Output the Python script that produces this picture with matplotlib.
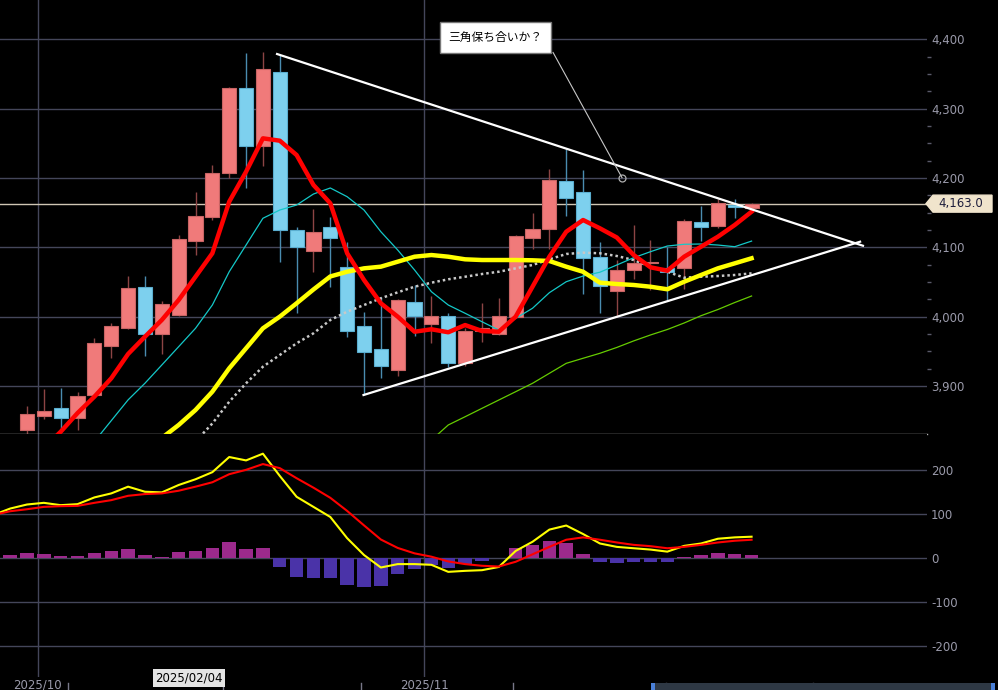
import numpy as np
import matplotlib
matplotlib.use("Agg")
import matplotlib.pyplot as plt
import matplotlib.transforms as mtrans
from matplotlib.patches import Rectangle, Polygon
from matplotlib.ticker import FuncFormatter, FixedLocator

plt.rcParams['font.family'] = ['DejaVu Sans', 'Noto Sans CJK JP']
plt.rcParams['axes.unicode_minus'] = False

# ---------------- data ----------------
candle_idx = list(range(-1, 44))
opens = [3790, 3836.6, 3856.7, 3868.3, 3854.3, 3887, 3958.2, 3983.3, 4042.4, 3974.5,
         4002.4, 4109.6, 4144.2, 4207.6, 4329.3, 4246.6, 4353.3, 4125, 4094.7, 4128.9,
         4072, 3986.6, 3954, 3923, 4020.8, 3989.4, 4001.4, 3933, 3980, 3974.6,
         3999, 4113.9, 4126.4, 4195.6, 4180.3, 4085.6, 4037.5, 4067, 4077, 4070,
         4070.8, 4136, 4131, 4161, 4157.2]
highs = [3828, 3871, 3895.7, 3897.6, 3891.8, 3969.7, 3991.3, 4058.6, 4058.6, 4022.2,
         4117.4, 4179.8, 4218.9, 4331, 4379.8, 4381.7, 4377.4, 4130, 4155, 4144,
         4108, 4006.4, 4029, 4025, 4045.7, 4029.8, 4005, 3984, 4019, 4026.5,
         4117.5, 4149, 4212.6, 4241.4, 4211.6, 4107, 4081.7, 4132, 4110, 4101,
         4140.4, 4159.6, 4169.7, 4169.3, 4164]
lows = [3780, 3830, 3852.4, 3836.6, 3836.6, 3887, 3940.9, 3981.8, 3943.7, 3946,
        4001, 4088.5, 4139.4, 4199.6, 4185, 4217.7, 4079.3, 4004.8, 4065, 4043,
        3971, 3887, 3911, 3914, 3972, 3961.6, 3928, 3929, 3964, 3973,
        3998, 4097.6, 4098, 4145, 4032.3, 4006, 4000, 4055, 4038.5, 4024,
        4039.5, 4109, 4128, 4141.8, 4157]
closes = [3815, 3859.3, 3864, 3854.3, 3886, 3961.6, 3986.6, 4041.8, 3975.5, 4018.2,
          4112, 4144.8, 4207.2, 4330.2, 4246.6, 4356.7, 4125, 4101, 4121.7, 4113,
          3979.3, 3949, 3929, 4024.5, 4001.4, 4001.4, 3932.8, 3980, 3983, 4001,
          4116.4, 4126.4, 4197, 4171.6, 4085, 4044.2, 4067.3, 4077, 4079, 4065,
          4138.6, 4129.8, 4164.4, 4158, 4163.0]

nan = np.nan
ma_red = [3780, 3795, 3810, 3834, 3861, 3884.6, 3911.1, 3946.2, 3971.1, 3995.2,
          4024, 4057.6, 4091.4, 4165.8, 4209, 4257.2, 4253.8, 4233.1, 4189.9, 4163.5,
          4091.4, 4052.9, 4019.3, 4000, 3978.3, 3981.8, 3977.5, 3987.9, 3979.3, 3978.3,
          4000, 4043.2, 4086.5, 4122.5, 4139.4, 4127.4, 4114.2, 4089, 4071.2, 4066.3,
          4086.5, 4100.9, 4115.3, 4132.2, 4151.4]
ma_cyan = [nan, nan, nan, nan, nan, 3820, 3850, 3880, 3904, 3930.3,
           3956.7, 3983.2, 4016.8, 4064.8, 4103.3, 4141.9, 4153.8, 4161, 4176.9, 4185.6,
           4173, 4153.8, 4122.5, 4096.1, 4067.3, 4036, 4016.8, 4004.9, 3992.7, 3980.7,
           3997.6, 4012.1, 4034.6, 4050.4, 4058.6, 4064.1, 4074.5, 4085, 4093.7, 4101.9,
           4104.4, 4104.8, 4103.3, 4100.9, 4109]
ma_yellow = [nan, nan, nan, nan, nan, nan, nan, nan, nan, 3825,
             3843.8, 3865.4, 3891.8, 3925.5, 3954.4, 3983.2, 4000, 4019.3, 4039.2, 4058,
             4064.8, 4069.7, 4072.1, 4079.3, 4086.5, 4088.9, 4086.5, 4082.7, 4081.7, 4081.7,
             4081.7, 4081.3, 4080.3, 4072.1, 4064.8, 4049, 4047.1, 4045.7, 4043.2, 4039.5,
             4050.4, 4060.1, 4069.7, 4076.9, 4084.2]
ma_dotted = [nan, nan, nan, nan, nan, nan, nan, nan, nan, nan,
             nan, 3820, 3846, 3877.3, 3903.9, 3927.8, 3944.7, 3961.6, 3976, 3995.2,
             4007.2, 4016.8, 4026.5, 4035.1, 4043.2, 4049, 4053.9, 4057.6, 4061.5, 4064.8,
             4069.7, 4074.5, 4082.7, 4090.4, 4092.3, 4091.4, 4087.5, 4081.7, 4072.1, 4064.8,
             4056.2, 4057.6, 4058.6, 4060.1, 4062.5]
ma_green = [nan] * 25 + [3822, 3843.8, 3855.7, 3867.8, 3879.8, 3891.8, 3903.9, 3918.3, 3932.7, 3940,
                         3947.2, 3955.6, 3965, 3973.6, 3981.5, 3990.9, 4001.4, 4010.3, 4020.4, 4029.8]

macd_idx = list(range(-2, 44))
macd_line = [97, 111.6, 120.8, 124.6, 119.3, 121.6, 136.9, 146, 161.3, 149.8,
             148.3, 165.1, 178.1, 194.2, 228.6, 220.9, 236.2, 185.8, 138.3, 115.4,
             92.5, 44.3, 6.1, -22.2, -14.5, -14.5, -16.1, -32.1, -29.8, -28.3,
             -21, 15.4, 36.2, 63.8, 73.1, 53.8, 32.3, 24.6, 21.5, 18.5,
             13.8, 26.9, 32.3, 43.1, 46.2, 47.7]
signal_line = [97, 105.5, 110.1, 115.4, 117, 117.7, 124.6, 130.7, 140.6, 144.5,
               146, 152.1, 161.3, 171.3, 189.6, 199.5, 212.6, 203.4, 180.5, 159,
               136, 106.2, 73.4, 41.3, 22.2, 9.9, 2.3, -8.4, -14.5, -18.3,
               -20, -9.2, 7.7, 24.6, 40.8, 46.2, 40.8, 34.6, 29.2, 26.2,
               21.5, 24.6, 29.2, 34.6, 38.5, 40.8]
hist_idx = list(range(-1, 44))
macd_hist = [6.1, 10.7, 9.2, 3.8, 3.1, 11.5, 15.3, 19.8, 5.3, 1.5,
             12.2, 16, 22.1, 36.6, 19.1, 22.9, -20.6, -43.5, -46.6, -45.8,
             -62.6, -66.4, -63.4, -37.4, -25.2, -17.6, -23.7, -13.7, -7.6, -1,
             21.5, 29.2, 38.5, 32.3, 9.2, -9.2, -12.3, -10.8, -9.2, -9.2,
             2.3, 5.4, 10, 8.5, 6.2]

# trendlines (index, price)
upper_trend = ([14.84, 49.61], [4378.8, 4102.3])
lower_trend = ([19.97, 49.44], [3887.0, 4108.1])

annot_text = "三角保ち合いか？"
annot_box = (27.8, 4402.6)
annot_line = ([31.22, 35.31], [4381.0, 4200.5])

last_price = 4163.0
date_labels = ["2025/10", "2025/11"]
date_pos = [0.63, 23.56]
minor_date_pos = [2.43, 11.63, 19.82, 28.84, 37.92, 46.65]
cursor_label = "2025/02/04"

price_ticks = [3900, 4000, 4100, 4200, 4300, 4400]
price_minor = [3925, 3950, 3975, 4025, 4050, 4075, 4125, 4150, 4175,
               4225, 4250, 4275, 4325, 4350, 4375]
macd_ticks = [-200, -100, 0, 100, 200]

# ---------------- styling ----------------
W, H = 998, 690
BG = "black"
GRID = "#44465a"
LBL = "#9a9aaa"
UP_FILL, UP_EDGE, UP_WICK = "#f07a7a", "#c86464", "#8c4444"
DN_FILL, DN_EDGE, DN_WICK = "#7dd0ee", "#5aaed0", "#4a8cb0"

fig = plt.figure(figsize=(W / 100, H / 100), dpi=100, facecolor=BG)

def fy(py):
    return 1 - py / H

plot_right = 927
price_bot = 433.5
macd_top, macd_bot = 433.5, 677

ax = fig.add_axes([0, fy(price_bot), plot_right / W, price_bot / H])
axm = fig.add_axes([0, fy(macd_bot), plot_right / W, (macd_bot - macd_top) / H], sharex=ax)

for a in (ax, axm):
    a.set_facecolor(BG)
    for s in a.spines.values():
        s.set_visible(False)

ax.set_xlim(-1.602, 53.41)
ax.set_ylim(3831.5, 4456.7)
axm.set_ylim(-270.8, 282.0)

# grids
for p in price_ticks:
    ax.axhline(p, color=GRID, lw=1, zorder=0)
for v in macd_ticks:
    axm.axhline(v, color=GRID, lw=1, zorder=0)
for xv in date_pos:
    ax.axvline(xv, color=GRID, lw=1, zorder=0)
    axm.axvline(xv, color=GRID, lw=1, zorder=0)

ax.spines['bottom'].set_visible(True)
ax.spines['bottom'].set_color("#b4b4b4")
ax.spines['bottom'].set_linewidth(1)

# y axes on the right
ax.yaxis.tick_right()
ax.yaxis.set_major_locator(FixedLocator(price_ticks))
ax.yaxis.set_major_formatter(FuncFormatter(lambda v, p: f"{v:,.0f}"))
ax.yaxis.set_minor_locator(FixedLocator(price_minor))
ax.tick_params(axis='y', which='major', length=0, pad=3, labelcolor=LBL, labelsize=8.5)
ax.tick_params(axis='y', which='minor', length=3, width=1, color="#5a5a6a", direction='out')
ax.tick_params(axis='x', which='both', length=0, labelbottom=False)

axm.yaxis.tick_right()
axm.yaxis.set_major_locator(FixedLocator(macd_ticks))
axm.yaxis.set_major_formatter(FuncFormatter(lambda v, p: f"{v:.0f}"))
axm.tick_params(axis='y', which='major', length=0, pad=3, labelcolor=LBL, labelsize=8.5)
axm.xaxis.set_major_locator(FixedLocator(date_pos))
axm.set_xticklabels(date_labels)
axm.tick_params(axis='x', which='major', length=0, pad=1.2, labelcolor=LBL, labelsize=8.5)

# candles
xs = np.array(candle_idx, dtype=float)
o = np.array(opens); h = np.array(highs); l = np.array(lows); c = np.array(closes)
up = c >= o
ax.vlines(xs[up], l[up], h[up], color=UP_WICK, lw=1, zorder=2)
ax.vlines(xs[~up], l[~up], h[~up], color=DN_WICK, lw=1, zorder=2)
body_bot = np.minimum(o, c)
body_h = np.maximum(np.abs(c - o), 0.8)
ax.bar(xs[up], body_h[up], bottom=body_bot[up], width=0.84, color=UP_FILL,
       edgecolor=UP_EDGE, lw=0.8, zorder=3)
ax.bar(xs[~up], body_h[~up], bottom=body_bot[~up], width=0.84, color=DN_FILL,
       edgecolor=DN_EDGE, lw=0.8, zorder=3)

# current price line
ax.axhline(last_price, color="#cfc6b4", lw=1, zorder=1.5)

# moving averages
ax.plot(xs, ma_green, color="#66cc00", lw=0.9, zorder=4)
ax.plot(xs, ma_dotted, color="#c8c8c8", lw=1.8, ls=(0, (1, 1.2)), zorder=4)
ax.plot(xs, ma_cyan, color="#14c8c8", lw=0.9, zorder=4)
ax.plot(xs, ma_yellow, color="#ffff00", lw=3.2, zorder=4.5, solid_joinstyle='round')
ax.plot(xs, ma_red, color="#ff0000", lw=3.2, zorder=4.6, solid_joinstyle='round')

# triangle trendlines
ax.plot(*upper_trend, color="white", lw=1.6, zorder=5)
ax.plot(*lower_trend, color="white", lw=1.6, zorder=5)

# annotation
ax.plot(*annot_line, color="#c8c8c8", lw=0.8, zorder=6)
ax.plot([annot_line[0][1]], [annot_line[1][1]], marker='o', ms=5, mfc='none',
        mec="#b0b0b0", mew=0.9, zorder=6)
ax.text(*annot_box, annot_text, ha='center', va='center', fontsize=8.5, color='black',
        family=['Noto Sans CJK JP', 'DejaVu Sans'], zorder=7,
        bbox=dict(boxstyle='square,pad=0.75', fc='white', ec='#777777', lw=1))

# MACD panel
hist_colors = ["#9c2a8c" if v >= 0 else "#4a33a8" for v in macd_hist]
axm.bar(hist_idx, macd_hist, width=0.8, color=hist_colors, zorder=2)
axm.plot(macd_idx, macd_line, color="#ffff00", lw=1.5, zorder=3)
axm.plot(macd_idx, signal_line, color="#ff0000", lw=1.5, zorder=3.5)

# small ticks under x axis
blend = mtrans.blended_transform_factory(axm.transData, axm.transAxes)
for xv in minor_date_pos:
    axm.plot([xv, xv], [-0.025, -0.06], color="#777788", lw=1, transform=blend, clip_on=False)

# current price label on the right axis
fig.canvas.draw()
ypix = ax.transData.transform((0, last_price))[1]
inv = fig.transFigure.inverted()
pts_px = [(926, ypix), (933, ypix + 8.5), (992, ypix + 8.5), (992, ypix - 8.5), (933, ypix - 8.5)]
pts = [inv.transform(p) for p in pts_px]
fig.patches.append(Polygon(pts, closed=True, fc="#f0e4cc", ec="#f0e4cc",
                           transform=fig.transFigure, figure=fig, zorder=10))
cx, cy = inv.transform((961, ypix))
fig.text(cx, cy, f"{last_price:,.1f}", ha='center', va='center', fontsize=8.5,
         color="#1e1e3c", zorder=11)

# cursor date label
fig.text(189 / W, fy(678), cursor_label, ha='center', va='center', fontsize=8.5,
         color='black', zorder=11,
         bbox=dict(boxstyle='square,pad=0.2', fc='#e4e4e4', ec='none'))

# scrollbar at the bottom right
fig.patches.append(Rectangle((651 / W, 0), (995 - 651) / W, 7 / H, transform=fig.transFigure,
                             fc="#2e3844", ec='none', figure=fig))
fig.patches.append(Rectangle((651 / W, 0), 4 / W, 7 / H, transform=fig.transFigure,
                             fc="#4a80d8", ec='none', figure=fig))
fig.patches.append(Rectangle((991 / W, 0), 4 / W, 7 / H, transform=fig.transFigure,
                             fc="#4a80d8", ec='none', figure=fig))

fig.savefig("out.png", dpi=100, facecolor=BG)
